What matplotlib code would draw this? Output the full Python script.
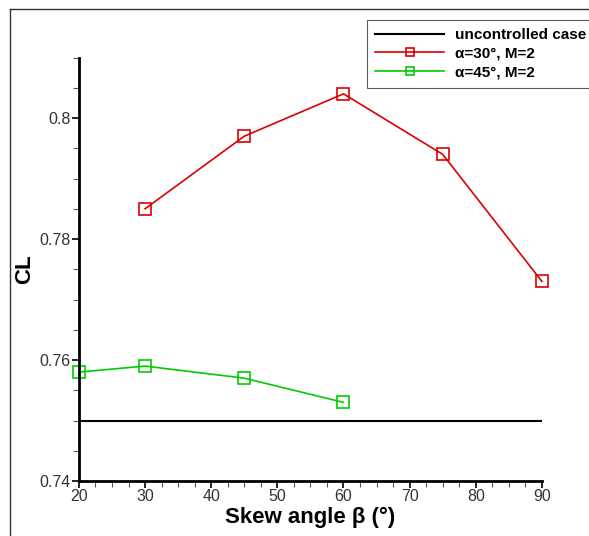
import matplotlib
matplotlib.use("Agg")
from matplotlib import pyplot as plt
from matplotlib.lines import Line2D
from matplotlib.ticker import MultipleLocator

plt.rcParams["font.family"] = ["Liberation Sans", "DejaVu Sans"]

# data
base_x = [20, 90]
base_cl = [0.75, 0.75]
a30_x = [30, 45, 60, 75, 90]
a30_cl = [0.785, 0.797, 0.804, 0.794, 0.773]
a45_x = [20, 30, 45, 60]
a45_cl = [0.758, 0.759, 0.757, 0.753]


def main():
    fig = plt.figure(figsize=(5.89, 5.36), dpi=100)
    ax = fig.add_axes([0.134, 0.1026, 0.786, 0.79])

    ax.plot(base_x, base_cl, color="black", lw=1.5, label="uncontrolled case")
    ax.plot(a30_x, a30_cl, color="#dd0000", lw=1.2, marker="s", ms=8,
            mfc="none", mew=1.2, clip_on=False, label="\u03b1=30\u00b0, M=2")
    ax.plot(a45_x, a45_cl, color="#00cc00", lw=1.2, marker="s", ms=8,
            mfc="none", mew=1.2, clip_on=False, label="\u03b1=45\u00b0, M=2")

    ax.set_xlim(20, 90)
    ax.set_ylim(0.74, 0.81)
    ax.set_xticks(range(20, 91, 10))
    ax.set_yticks([0.74, 0.76, 0.78, 0.8])
    ax.set_yticklabels(["0.74", "0.76", "0.78", "0.8"])
    ax.xaxis.set_minor_locator(MultipleLocator(2.5))
    ax.yaxis.set_minor_locator(MultipleLocator(0.005))
    ax.tick_params(which="major", length=5, width=1.2, labelsize=11.5,
                   labelcolor="#333333", pad=1)
    ax.tick_params(which="minor", length=4, width=0.8, color="#555555")

    for s in ("top", "right"):
        ax.spines[s].set_visible(False)
    for s in ("left", "bottom"):
        ax.spines[s].set_linewidth(2)

    ax.set_xlabel("Skew angle \u03b2 (\u00b0)", fontsize=16, fontweight="bold",
                  labelpad=2)
    ax.set_ylabel("CL", fontsize=16, fontweight="bold")
    ax.yaxis.set_label_coords(-0.095, 0.5)

    leg = fig.legend(loc="upper left", bbox_to_anchor=(0.623, 0.963),
                     fontsize=11, frameon=True, fancybox=False,
                     handlelength=4.5, handletextpad=0.7, borderaxespad=0,
                     labelspacing=0.3, borderpad=0.55, markerscale=0.8)
    leg.get_frame().set_edgecolor("#333333")
    leg.get_frame().set_linewidth(0.8)
    for t in leg.get_texts():
        t.set_fontweight("bold")

    # outer frame lines (top and left)
    fig.add_artist(Line2D([0.017, 1.0], [0.983, 0.983], color="#333333", lw=1))
    fig.add_artist(Line2D([0.017, 0.017], [0.0, 0.983], color="#333333", lw=1))

    plt.savefig("out.png", dpi=100)


if __name__ == "__main__":
    main()
